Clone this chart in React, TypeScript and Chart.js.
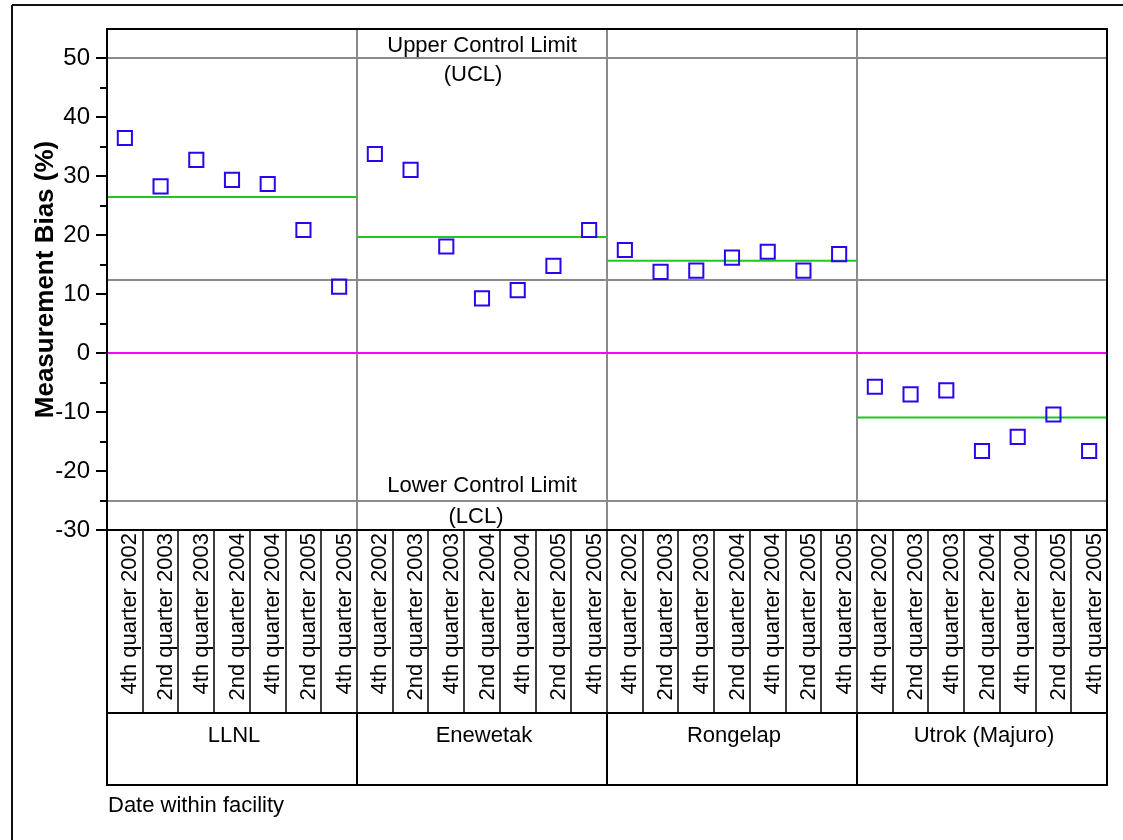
import React, { useEffect, useRef } from 'react';
import { Chart, registerables } from 'chart.js';

Chart.register(...registerables);

// ---------- data ----------
const facilities = ['LLNL', 'Enewetak', 'Rongelap', 'Utrok (Majuro)'];
const quarters = [
  '4th quarter 2002',
  '2nd quarter 2003',
  '4th quarter 2003',
  '2nd quarter 2004',
  '4th quarter 2004',
  '2nd quarter 2005',
  '4th quarter 2005',
];
const llnlBias = [36.5, 28.3, 32.8, 29.4, 28.7, 20.9, 11.3];
const enewetakBias = [33.8, 31.1, 18.1, 9.3, 10.7, 14.8, 20.9];
const rongelapBias = [17.5, 13.8, 14.0, 16.2, 17.2, 14.0, 16.8];
const utrokBias = [-5.7, -7.0, -6.3, -16.6, -14.2, -10.4, -16.6];
const facilityMeans = [26.5, 19.7, 15.7, -10.9];
const grayReferenceLines = [50, 12.5, -25];
const targetBias = 0;
const upperControlLimit = 50;
const lowerControlLimit = -25;
const yMin = -30;
const yMax = 55;
const yMajorStep = 10;
const yMinorStep = 5;
const yTitle = 'Measurement Bias (%)';
const xTitle = 'Date within facility';

// ---------- styles ----------
const FONT = "'Liberation Sans', Arial, Helvetica, sans-serif";
const BLUE = '#2a06ee';
const GREEN = '#1ec81e';
const MAGENTA = '#ff00ff';
const GRAY = '#8a8a8a';
const BLACK = '#000000';

const perGroup = quarters.length;
const allBias = [llnlBias, enewetakBias, rongelapBias, utrokBias];

function strokeLine(ctx: CanvasRenderingContext2D, x1: number, y1: number, x2: number, y2: number) {
  ctx.beginPath();
  ctx.moveTo(x1, y1);
  ctx.lineTo(x2, y2);
  ctx.stroke();
}

const decorPlugin = {
  id: 'decor',
  beforeDatasetsDraw(chart: any) {
    const { ctx, chartArea: a, scales } = chart;
    const x = scales.x;
    const y = scales.y;
    ctx.save();
    ctx.lineWidth = 2;
    ctx.strokeStyle = GRAY;
    for (const v of grayReferenceLines) {
      const py = Math.round(y.getPixelForValue(v));
      strokeLine(ctx, a.left, py, a.right, py);
    }
    for (let g = 1; g < facilities.length; g++) {
      const px = Math.round(x.getPixelForValue(g * perGroup - 0.5));
      strokeLine(ctx, px, a.top, px, a.bottom);
    }
    ctx.strokeStyle = MAGENTA;
    const p0 = Math.round(y.getPixelForValue(targetBias));
    strokeLine(ctx, a.left, p0, a.right, p0);
    ctx.restore();
  },
  afterDraw(chart: any) {
    const { ctx, chartArea: a, scales } = chart;
    const x = scales.x;
    const y = scales.y;
    const W = chart.width;
    const H = chart.height;
    const tableTop = a.bottom;
    const catBottom = 713;
    const groupBottom = 785;
    ctx.save();

    // outer frame (left + top)
    ctx.strokeStyle = '#111';
    ctx.lineWidth = 2;
    strokeLine(ctx, 12, 5, W, 5);
    strokeLine(ctx, 12, 5, 12, H);

    // y ticks
    ctx.strokeStyle = BLACK;
    ctx.lineWidth = 2;
    for (let v = yMin; v <= 50; v += yMinorStep) {
      const py = Math.round(y.getPixelForValue(v));
      const len = v % yMajorStep === 0 ? 11 : 7;
      strokeLine(ctx, a.left - len, py, a.left, py);
    }

    // plot frame
    strokeLine(ctx, a.left - 1, a.top, a.right + 1, a.top);
    strokeLine(ctx, a.right, a.top, a.right, groupBottom + 1);
    strokeLine(ctx, a.left, a.top, a.left, groupBottom + 1);

    // table
    strokeLine(ctx, a.left, tableTop, a.right, tableTop);
    strokeLine(ctx, a.left, catBottom, a.right, catBottom);
    strokeLine(ctx, a.left, groupBottom, a.right, groupBottom);
    ctx.lineWidth = 1.5;
    const n = facilities.length * perGroup;
    for (let i = 1; i < n; i++) {
      const px = Math.round(x.getPixelForValue(i - 0.5));
      strokeLine(ctx, px, tableTop, px, catBottom);
    }
    ctx.lineWidth = 2;
    for (let g = 1; g < facilities.length; g++) {
      const px = Math.round(x.getPixelForValue(g * perGroup - 0.5));
      strokeLine(ctx, px, catBottom, px, groupBottom);
    }

    // rotated category labels
    ctx.fillStyle = BLACK;
    ctx.font = `22px ${FONT}`;
    ctx.textAlign = 'right';
    ctx.textBaseline = 'alphabetic';
    for (let i = 0; i < n; i++) {
      const px = x.getPixelForValue(i);
      ctx.save();
      ctx.translate(px + 11.5, tableTop + 3);
      ctx.rotate(-Math.PI / 2);
      ctx.fillText(quarters[i % perGroup], 0, 0);
      ctx.restore();
    }

    // group labels
    ctx.textAlign = 'center';
    for (let g = 0; g < facilities.length; g++) {
      const cx = (x.getPixelForValue(g * perGroup - 0.5) + x.getPixelForValue(g * perGroup + perGroup - 0.5)) / 2;
      ctx.fillText(facilities[g], cx + 2, 742);
    }

    // x title
    ctx.textAlign = 'left';
    ctx.fillText(xTitle, 108, 812);

    // control limit labels (in Enewetak panel)
    const cx1 = (x.getPixelForValue(perGroup - 0.5) + x.getPixelForValue(2 * perGroup - 0.5)) / 2;
    const pu = y.getPixelForValue(upperControlLimit);
    const pl = y.getPixelForValue(lowerControlLimit);
    ctx.textAlign = 'center';
    ctx.fillText('Upper Control Limit', cx1, pu - 6);
    ctx.fillText('(UCL)', cx1 - 9, pu + 23);
    ctx.fillText('Lower Control Limit', cx1, pl - 9);
    ctx.fillText('(LCL)', cx1 - 6, pl + 22);

    // y title
    ctx.font = `bold 26px ${FONT}`;
    ctx.save();
    ctx.translate(53, (a.top + a.bottom) / 2);
    ctx.rotate(-Math.PI / 2);
    ctx.textAlign = 'center';
    ctx.fillText(yTitle, 0, 0);
    ctx.restore();

    ctx.restore();
  },
};

export default function App() {
  const canvasRef = useRef<HTMLCanvasElement | null>(null);

  useEffect(() => {
    const canvas = canvasRef.current;
    if (!canvas) return;

    const points: { x: number; y: number }[] = [];
    allBias.forEach((arr, g) => arr.forEach((v, i) => points.push({ x: g * perGroup + i, y: v })));

    const meanDatasets = facilityMeans.map((m, g) => ({
      type: 'line' as const,
      data: [
        { x: g * perGroup - 0.5, y: m },
        { x: g * perGroup + perGroup - 0.5, y: m },
      ],
      borderColor: GREEN,
      borderWidth: 2,
      pointRadius: 0,
      fill: false,
      order: 2,
    }));

    const chart = new Chart(canvas, {
      type: 'scatter',
      data: {
        datasets: [
          ...meanDatasets,
          {
            type: 'scatter' as const,
            data: points,
            pointStyle: 'rect',
            pointRadius: 10,
            pointHoverRadius: 10,
            borderColor: BLUE,
            backgroundColor: 'rgba(0,0,0,0)',
            borderWidth: 2,
            order: 1,
          },
        ] as any,
      },
      options: {
        responsive: false,
        animation: false,
        events: [],
        layout: { padding: { top: 29, right: 16, bottom: 310, left: 0 } },
        plugins: { legend: { display: false }, tooltip: { enabled: false } },
        scales: {
          x: {
            type: 'linear',
            min: -0.5,
            max: facilities.length * perGroup - 0.5,
            display: false,
          },
          y: {
            type: 'linear',
            min: yMin,
            max: yMax,
            afterFit: (scale: any) => {
              scale.width = 107;
            },
            ticks: {
              stepSize: yMinorStep,
              autoSkip: false,
              padding: 6,
              color: BLACK,
              font: { family: FONT, size: 24 },
              callback: (v: any) => (Number(v) % yMajorStep === 0 && Number(v) <= 50 ? String(v) : ''),
            },
            grid: {
              display: true,
              drawOnChartArea: false,
              drawTicks: true,
              tickLength: 11,
              color: 'rgba(0,0,0,0)',
            },
            border: { display: true, color: BLACK, width: 2 },
          },
        },
      },
      plugins: [decorPlugin],
    } as any);

    return () => chart.destroy();
  }, []);

  return (
    <div style={{ position: 'absolute', left: 0, top: 0, width: 1123, height: 840, background: '#ffffff' }}>
      <canvas ref={canvasRef} width={1123} height={840} style={{ display: 'block', width: 1123, height: 840 }} />
    </div>
  );
}
